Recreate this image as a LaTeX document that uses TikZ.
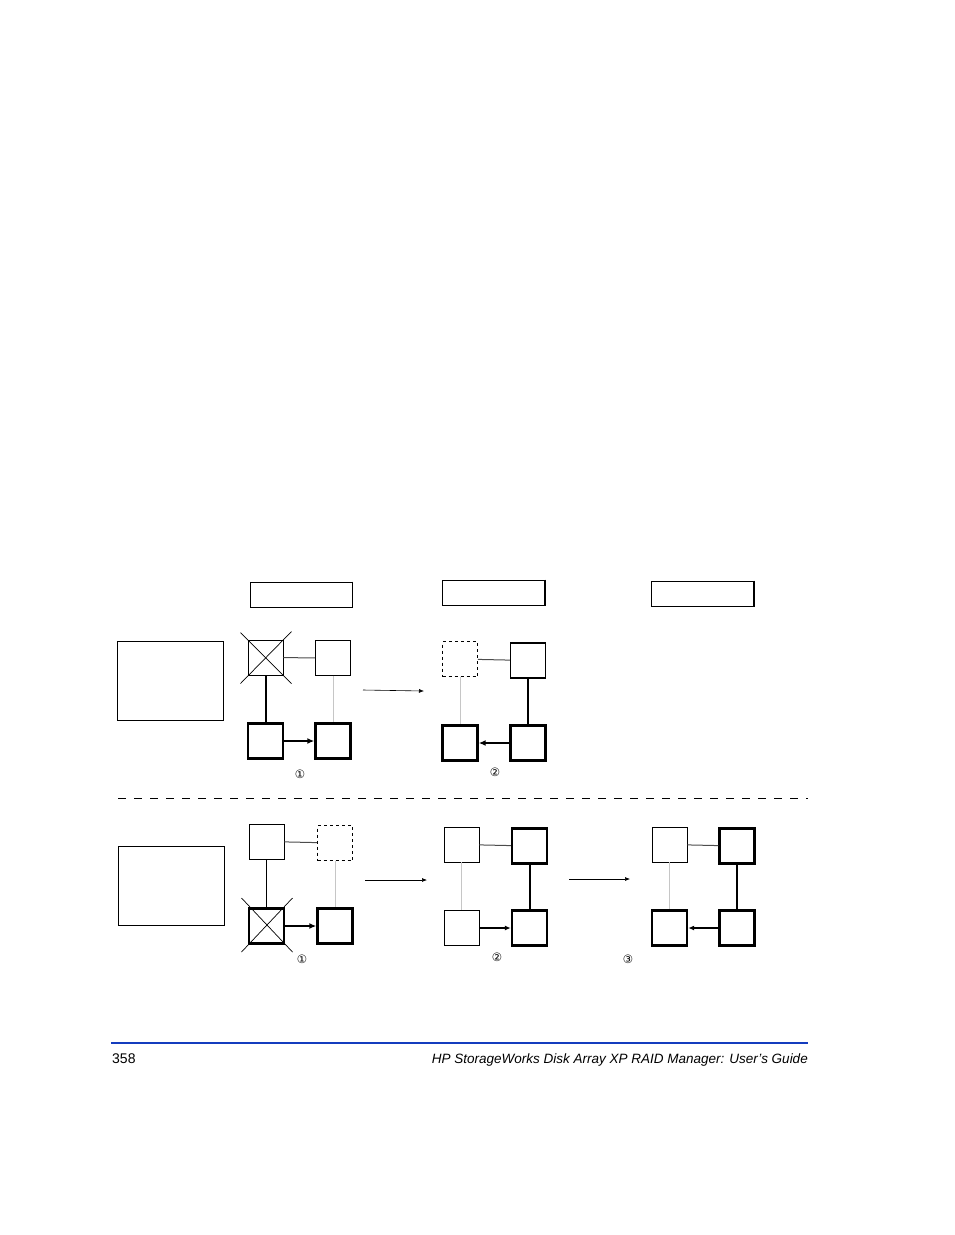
\documentclass[tikz,border=0pt]{standalone}
\usepackage{fontspec}
\setsansfont{Liberation Sans}
\newfontfamily\symfont{DejaVu Sans}
\usetikzlibrary{arrows.meta}
\definecolor{hpblue}{RGB}{20,60,190}

\tikzset{
  disk/.style={draw, minimum size=35pt, inner sep=0pt, line width=0.8pt},
  pvol/.style={disk, line width=2.4pt},
  lost/.style={disk, dashed, line width=0.6pt},
  titlebox/.style={draw, line width=1pt, minimum width=102pt, minimum height=25pt, inner sep=0pt},
  notebox/.style={draw, line width=0.6pt, minimum width=106pt, minimum height=79pt, inner sep=0pt},
  pairline/.style={line width=1pt, gray!60!black},
  faint/.style={line width=0.6pt, gray!45},
  strong/.style={line width=2pt},
  copyarr/.style={line width=2.2pt, -{Latex[length=7pt,width=6pt]}},
  copythin/.style={line width=1.3pt, -{Latex[length=6pt,width=5pt]}},
  flow/.style={line width=0.6pt, -{Latex[length=5pt,width=4pt]}},
  step label/.style={font=\symfont\fontsize{11.5}{11.5}\selectfont, inner sep=0pt}
}

\begin{document}
\begin{tikzpicture}[x=1pt,y=-1pt]
  \useasboundingbox (0,0) rectangle (954,1235);

  % titles and notes
  \node[titlebox] (h1) at (301,594.5) {};
  \node[titlebox] (h2) at (493.5,592.5) {};
  \node[titlebox] (h3) at (702.5,593.5) {};
  \foreach \h in {h1,h2,h3}
    \draw[line width=1.8pt] (\h.north east) -- (\h.south east) -- (\h.south west);
  \node[notebox] (n1) at (170.5,681) {};
  \node[notebox] (n2) at (171.5,885.5) {};

  % upper case, state 1
  \node[disk] (a1) at (265.5,657.5) {};
  \node[disk] (a2) at (333,658) {};
  \node[pvol] (a3) at (265.5,741) {};
  \node[pvol] (a4) at (333,741) {};
  \draw[line width=0.7pt] ([shift={(-25,-25)}]a1.center) -- ([shift={(26,26)}]a1.center);
  \draw[line width=0.7pt] ([shift={(26,-26)}]a1.center) -- ([shift={(-25,26)}]a1.center);
  \draw[pairline] (a1) -- (a2);
  \draw[faint] (a2) -- (a4);
  \draw[strong] (a1) -- (a3);
  \draw[copyarr] (a3) -- (a4);
  \node[step label] (s1) at (300,774) {①};

  \coordinate (f1a) at (363,690);
  \coordinate (f1b) at (424,691);
  \draw[flow] (f1a) -- (f1b);

  % upper case, state 2
  \node[lost] (b1) at (460,659) {};
  \node[disk, line width=1.2pt] (b2) at (528,660.5) {};
  \node[pvol] (b3) at (460,743) {};
  \node[pvol] (b4) at (528,743) {};
  \draw[pairline] (b1) -- (b2);
  \draw[faint] (b1) -- (b3);
  \draw[strong] (b2) -- (b4);
  \draw[copyarr] (b4) -- (b3);
  \node[step label] (s2) at (495,772) {②};

  % divider
  \coordinate (d1) at (118,798);
  \coordinate (d2) at (808,798);
  \draw[line width=0.7pt, dash pattern=on 8pt off 8pt] (d1) -- (d2);

  % lower case, state 1
  \node[disk] (c1) at (266.5,841.5) {};
  \node[lost] (c2) at (335,843) {};
  \node[pvol] (c3) at (266.5,926) {};
  \node[pvol] (c4) at (335,926) {};
  \draw[line width=0.7pt] ([shift={(-25,-28)}]c3.center) -- ([shift={(26,26)}]c3.center);
  \draw[line width=0.7pt] ([shift={(26,-28)}]c3.center) -- ([shift={(-25,26)}]c3.center);
  \draw[pairline] (c1) -- (c2);
  \draw[strong, line width=1.6pt] (c1) -- (c3);
  \draw[faint] (c2) -- (c4);
  \draw[copyarr] (c3) -- (c4);
  \node[step label] (t1) at (302,959) {①};

  \coordinate (f2a) at (365,880);
  \coordinate (f2b) at (427,880);
  \draw[flow] (f2a) -- (f2b);

  % lower case, state 2
  \node[disk] (e1) at (461.5,844.5) {};
  \node[pvol] (e2) at (529.5,846) {};
  \node[disk] (e3) at (461.5,928) {};
  \node[pvol] (e4) at (529.5,928) {};
  \draw[pairline] (e1) -- (e2);
  \draw[faint] (e1) -- (e3);
  \draw[strong] (e2) -- (e4);
  \draw[copythin] (e3) -- (e4);
  \node[step label] (t2) at (497,957) {②};

  \coordinate (f3a) at (569,879);
  \coordinate (f3b) at (630,879);
  \draw[flow] (f3a) -- (f3b);

  % lower case, state 3
  \node[disk] (g1) at (669.5,844.5) {};
  \node[pvol] (g2) at (737,846) {};
  \node[pvol] (g3) at (669.5,928) {};
  \node[pvol] (g4) at (737,928) {};
  \draw[pairline] (g1) -- (g2);
  \draw[faint] (g1) -- (g3);
  \draw[strong] (g2) -- (g4);
  \draw[copythin] (g4) -- (g3);
  \node[step label] (t3) at (628,959) {③};

  % footer
  \coordinate (r1) at (111,1043);
  \coordinate (r2) at (808,1043);
  \draw[hpblue, line width=1.5pt] (r1) -- (r2);
  \node[font=\sffamily\fontsize{14}{14}\selectfont, anchor=base west, inner sep=0pt] (pg) at (112,1063) {358};
  \node[font=\sffamily\itshape\fontsize{13.5}{13.5}\selectfont, anchor=base east, inner sep=0pt] (ft) at (808,1063) {HP StorageWorks Disk Array XP RAID Manager: User’s Guide};
\end{tikzpicture}
\end{document}
